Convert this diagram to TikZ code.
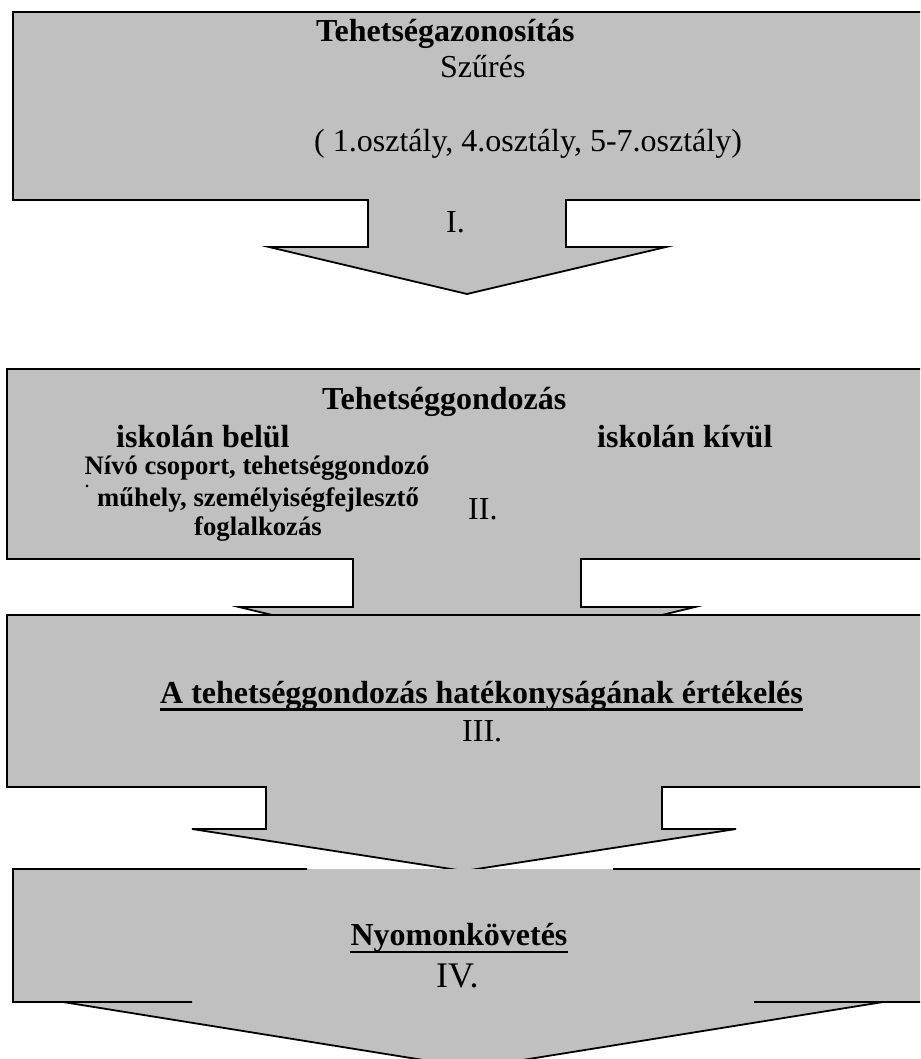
\documentclass[tikz,border=0pt]{standalone}
\usepackage{fontspec}
\setmainfont{Liberation Serif}
\definecolor{silver}{RGB}{192,192,192}
\tikzset{
  arrowbox/.style={fill=silver, draw=black, line width=1.8pt, line join=miter},
  edgeline/.style={draw=black, line width=1.8pt, line join=miter},
  txt/.style={inner sep=0pt, font=\fontsize{32}{38}\selectfont},
  btxt/.style={inner sep=0pt, font=\fontsize{32}{38}\selectfont\bfseries},
  stxt/.style={inner sep=0pt, font=\fontsize{26.7}{32}\selectfont\bfseries},
  ltxt/.style={inner sep=0pt, font=\fontsize{36}{42}\selectfont},
  uline/.style={line width=2.6pt}
}
\begin{document}
\begin{tikzpicture}[x=1pt,y=-1pt]
\useasboundingbox (0,0) rectangle (920,1059);
\clip (0,0) rectangle (920,1059);
% shape I
\path[arrowbox] (13,12) -- (925,12) -- (925,200) -- (566,200) -- (566,247) -- (666,247)
  -- (467,294) -- (269,247) -- (368,247) -- (368,200) -- (13,200) -- cycle;
% shape II
\path[arrowbox] (7,369) -- (925,369) -- (925,559) -- (581,559) -- (581,607) -- (695,607)
  -- (467,662) -- (239,607) -- (353,607) -- (353,559) -- (7,559) -- cycle;
% shape III
\path[arrowbox] (7,615) -- (925,615) -- (925,787) -- (662,787) -- (662,829) -- (736,829)
  -- (464,871) -- (192,829) -- (266,829) -- (266,787) -- (7,787) -- cycle;
% shape IV
\fill[silver] (13,869) -- (925,869) -- (925,1002) -- (754,1002) -- (883,1002)
  -- (473,1068) -- (63,1002) -- (192,1002) -- (13,1002) -- cycle;
\draw[edgeline] (307,869) -- (13,869) -- (13,1002) -- (192,1002) -- (63,1002)
  -- (473,1068) -- (883,1002) -- (754,1002) -- (925,1002) -- (925,869) -- (613,869);

% texts I
\node[btxt, anchor=base west] (t1a) at (316,42) {Tehetségazonosítás};
\node[txt, anchor=base west] (t1b) at (440,78) {Szűrés};
\node[txt, anchor=base west] (t1c) at (314,152) {( 1.osztály, 4.osztály, 5-7.osztály)};
\node[txt, anchor=base west] (t1d) at (446,233) {I.};
% texts II
\node[btxt, anchor=base west] (t2a) at (322,409) {Tehetséggondozás};
\node[btxt, anchor=base west] (t2b) at (116,447) {iskolán belül};
\node[btxt, anchor=base west] (t2c) at (597,447) {iskolán kívül};
\node[stxt, anchor=base] (t2d) at (257,474) {Nívó csoport, tehetséggondozó};
\node[stxt, anchor=base] (t2e) at (258,506) {műhely, személyiségfejlesztő};
\node[stxt, anchor=base] (t2f) at (258,535) {foglalkozás};
\node[inner sep=0pt, font=\fontsize{16}{18}\selectfont\bfseries, anchor=base west] (t2dot) at (85,487) {.};
\node[txt, anchor=base west] (t2g) at (468,519) {II.};
% texts III
\node[btxt, anchor=base] (t3a) at (481.5,703) {A tehetséggondozás hatékonyságának értékelés};
\draw[uline] ([yshift=-6.5pt]t3a.base west) -- ([yshift=-6.5pt]t3a.base east);
\node[txt, anchor=base west] (t3b) at (462,741) {III.};
% texts IV
\node[btxt, anchor=base] (t4a) at (459,945) {Nyomonkövetés};
\draw[uline] ([yshift=-7pt]t4a.base west) -- ([yshift=-7pt]t4a.base east);
\node[ltxt, anchor=base west] (t4b) at (436,987) {IV.};
\end{tikzpicture}
\end{document}
